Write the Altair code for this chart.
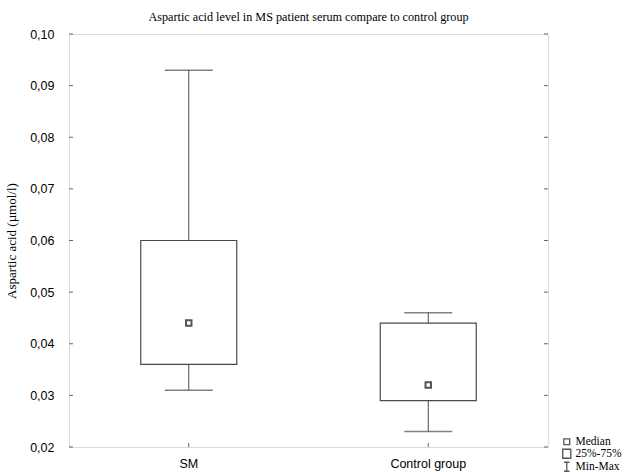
import altair as alt
import pandas as pd

groups = ["SM", "Control group"]
mins = [0.031, 0.023]
q1s = [0.036, 0.029]
medians = [0.044, 0.032]
q3s = [0.060, 0.044]
maxs = [0.093, 0.046]

y_ticks = [0.02, 0.03, 0.04, 0.05, 0.06, 0.07, 0.08, 0.09, 0.10]
legend_items = ["Median", "25%-75%", "Min-Max"]

W, H = 479, 413
LINE = "#4a4a4a"
FRAME = "#666666"

df = pd.DataFrame({"group": groups, "min": mins, "q1": q1s, "median": medians,
                   "q3": q3s, "max": maxs})
ticks_df = pd.DataFrame({"v": y_ticks})
legend_df = pd.DataFrame({"item": legend_items})

xscale = alt.Scale(domain=groups, paddingInner=0, paddingOuter=0)
yscale = alt.Scale(domain=[0.02, 0.10], nice=False, zero=False)

x_enc = alt.X("group:N", scale=xscale, sort=groups,
              axis=alt.Axis(title=None, labelAngle=0, ticks=False, domain=False,
                            labelFont="Liberation Sans", labelFontSize=12.5,
                            labelColor="#000", labelPadding=10))
y_axis = alt.Axis(title="Aspartic acid (µmol/l)", values=y_ticks, ticks=False,
                  domain=False, grid=False,
                  labelExpr="replace(format(datum.value, '.2f'), '.', ',')",
                  labelFont="Liberation Sans", labelFontSize=12.5, labelColor="#000",
                  labelPadding=15, titleFont="Liberation Serif", titleFontSize=13,
                  titleFontWeight="normal", titleColor="#000", titlePadding=11)

base = alt.Chart(df)

whisk_lo = base.mark_rule(color=LINE, strokeWidth=1).encode(
    x=x_enc, y=alt.Y("min:Q", scale=yscale, axis=y_axis), y2="q1:Q")
whisk_hi = base.mark_rule(color=LINE, strokeWidth=1).encode(
    x="group:N", y="q3:Q", y2="max:Q")
cap_lo = base.mark_tick(color=LINE, size=48, thickness=1.5).encode(
    x="group:N", y="min:Q")
cap_hi = base.mark_tick(color=LINE, size=48, thickness=1.5).encode(
    x="group:N", y="max:Q")
box = base.mark_bar(size=96, fill="white", stroke=LINE, strokeWidth=1.2).encode(
    x="group:N", y="q1:Q", y2="q3:Q")
med = base.mark_square(size=30, fill="white", stroke="#555", strokeWidth=2,
                       opacity=1).encode(x="group:N", y="median:Q")

left_ticks = alt.Chart(ticks_df).mark_rule(color=FRAME).encode(
    y="v:Q", x=alt.value(0), x2=alt.value(4))
right_ticks = alt.Chart(ticks_df).mark_rule(color=FRAME).encode(
    y="v:Q", x=alt.value(W - 4), x2=alt.value(W))
bottom_ticks = base.mark_rule(color=FRAME).encode(
    x="group:N", y=alt.value(H), y2=alt.value(H - 4))

paths = [
    "M-0.65,-0.65H0.65V0.65H-0.65Z",
    "M-0.9,-1H0.9V1H-0.9Z",
    "M-0.6,-1H0.6M0,-1V1M-0.6,1H0.6",
]
legend_layer = alt.Chart(legend_df).mark_point(opacity=0, size=81).encode(
    shape=alt.Shape("item:N", sort=legend_items,
                    scale=alt.Scale(domain=legend_items, range=paths),
                    legend=alt.Legend(title=None, orient="none", legendX=492,
                                      legendY=402, symbolSize=81,
                                      symbolFillColor="white",
                                      symbolStrokeColor="#555",
                                      symbolStrokeWidth=1.3, symbolOpacity=1,
                                      labelFont="Liberation Serif",
                                      labelFontSize=11.5, labelColor="#000",
                                      rowPadding=-2, labelOffset=3, padding=0)))

chart = alt.layer(whisk_lo, whisk_hi, cap_lo, cap_hi, box, med,
                  left_ticks, right_ticks, bottom_ticks, legend_layer).properties(
    width=W, height=H,
    title=alt.Title("Aspartic acid level in MS patient serum compare to control group",
                    font="Liberation Serif", fontSize=12.2, fontWeight="normal",
                    color="#000", offset=5),
    autosize=alt.AutoSizeParams(type="none"),
    padding={"left": 69, "top": 34, "right": 81, "bottom": 25},
).configure_view(stroke=FRAME, strokeWidth=1.2).configure(background="white")

chart.save("out.html", embed_options={"renderer": "svg", "actions": False})
